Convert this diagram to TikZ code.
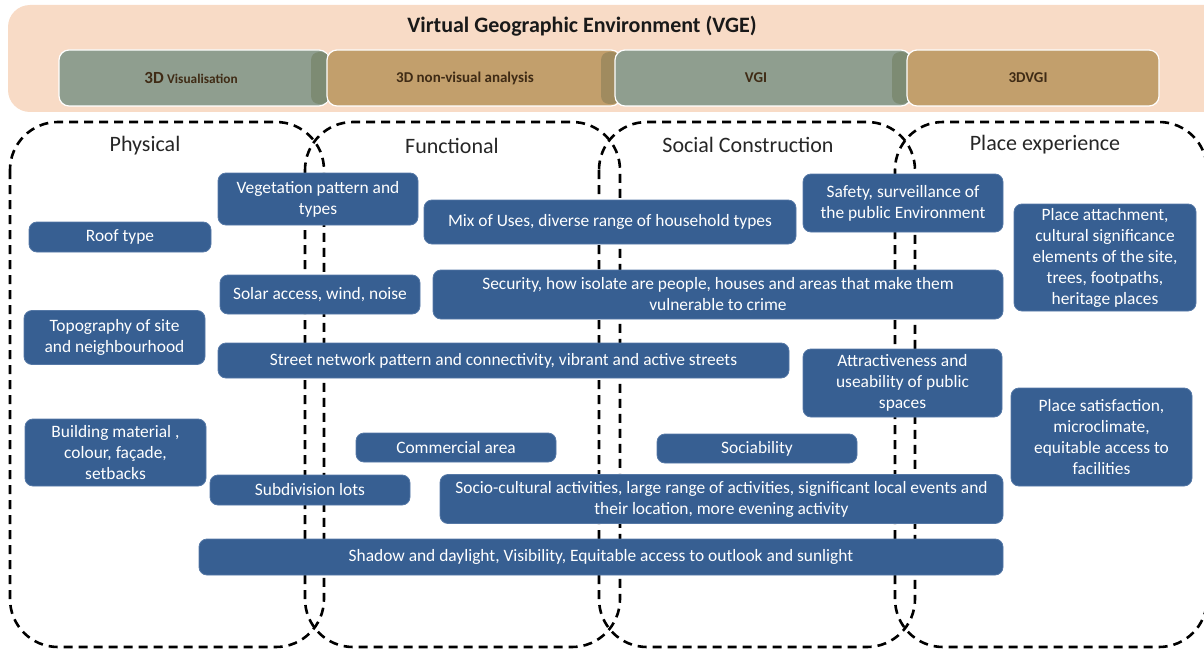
\documentclass[tikz,border=0pt]{standalone}
\usepackage{fontspec}
\setmainfont{Carlito}
\definecolor{peach}{HTML}{F8DBC6}
\definecolor{gbody}{HTML}{8F9E8F}
\definecolor{gcap}{HTML}{7D8B73}
\definecolor{tbody}{HTML}{C29F6C}
\definecolor{tcap}{HTML}{A08B5F}
\definecolor{boxblue}{HTML}{375F92}
\definecolor{boxedge}{HTML}{5578A6}
\definecolor{cyltext}{HTML}{3F2B15}
\tikzset{
  box/.style={rectangle, rounded corners=8pt, fill=boxblue, draw=boxedge, line width=0.8pt,
    text=white, align=center, inner sep=0pt, font=\fontsize{17.4}{21}\selectfont},
  region/.style={draw=black, line width=2.6pt, dash pattern=on 9pt off 6pt, rounded corners=48pt},
  header/.style={font=\fontsize{22}{26}\selectfont, text=black!85, inner sep=0pt},
  cylbody/.style={rectangle, rounded corners=10pt, draw=white, line width=1.2pt, inner sep=0pt, minimum height=56pt},
  cyllabel/.style={font=\bfseries\fontsize{15}{17}\selectfont, text=cyltext, inner sep=0pt}
}
\begin{document}
\begin{tikzpicture}[x=1pt,y=-1pt]
\useasboundingbox (0,0) rectangle (1204,650);
\clip (0,0) rectangle (1204,650);
% banner
\node[rectangle, rounded corners=22pt, fill=peach, minimum width=1222pt, minimum height=107pt, inner sep=0pt] (vge) at (619,58.5) {};
\node[font=\bfseries\fontsize{22}{26}\selectfont, text=black!90, inner sep=0pt] (vgetitle) at (582,26) {Virtual Geographic Environment (VGE)};
% cylinders
\node[cylbody, fill=gbody, minimum width=270pt] (c1) at (194,78) {};
\fill[gcap, rounded corners=8pt] (311,52) rectangle (329,104);
\node[cylbody, fill=tbody, minimum width=294pt] (c2) at (474,78) {};
\fill[tcap, rounded corners=8pt] (601,52) rectangle (620,104);
\node[cylbody, fill=gbody, minimum width=296pt] (c3) at (763,78) {};
\fill[gcap, rounded corners=8pt] (892,52) rectangle (910,104);
\node[cylbody, fill=tbody, minimum width=252pt] (c4) at (1033,78) {};
\node[cyllabel] (l1) at (191,78) {{\fontsize{17}{18}\selectfont 3D} {\fontsize{13.3}{16}\selectfont Visualisation}};
\node[cyllabel] (l2) at (465,78) {3D non-visual analysis};
\node[cyllabel] (l3) at (756,78) {VGI};
\node[cyllabel] (l4) at (1028,78) {3DVGI};
% dashed regions
\draw[region] (10,122) rectangle (324,647);
\draw[region] (305,122) rectangle (620,647);
\draw[region] (599,122) rectangle (915,647);
\draw[region] (895,122) rectangle (1207,647);
% headers
\node[header] (hphys) at (145,146) {Physical};
\node[header] (hfunc) at (452,146) {Functional};
\node[header] (hsoc) at (748,145) {Social Construction};
\node[header] (hplace) at (1045,145) {Place experience};
% boxes
\begin{scope}[every node/.append style={yshift=-1pt}]
\node[box, minimum width=200pt, minimum height=52pt] (veg) at (318,198) {Vegetation pattern and\\types};
\node[box, minimum width=182pt, minimum height=30pt] (roof) at (120,236) {Roof type};
\node[box, minimum width=372pt, minimum height=44pt] (mix) at (610,221) {Mix of Uses, diverse range of household types};
\node[box, minimum width=200pt, minimum height=58pt] (safety) at (903,202) {Safety, surveillance of\\the public Environment};
\node[box, minimum width=182pt, minimum height=107pt] (attach) at (1105,256.5) {Place attachment,\\cultural significance\\elements of the site,\\trees, footpaths,\\heritage places};
\node[box, minimum width=200pt, minimum height=39pt] (solar) at (320,293.5) {Solar access, wind, noise};
\node[box, minimum width=570pt, minimum height=49pt] (security) at (718,293.5) {Security, how isolate are people, houses and areas that make them\\vulnerable to crime};
\node[box, minimum width=181pt, minimum height=54pt] (topo) at (114.5,336.5) {Topography of site\\and neighbourhood};
\node[box, minimum width=571pt, minimum height=35pt] (street) at (503.5,359.5) {Street network pattern and connectivity, vibrant and active streets};
\node[box, minimum width=199pt, minimum height=68pt] (attract) at (902.5,382) {Attractiveness and\\useability of public\\spaces};
\node[box, minimum width=181pt, minimum height=98pt] (satisf) at (1101.5,436) {Place satisfaction,\\microclimate,\\equitable access to\\facilities};
\node[box, minimum width=181pt, minimum height=67pt] (building) at (115.5,451.5) {Building material ,\\colour, façade,\\setbacks};
\node[box, minimum width=200pt, minimum height=29pt] (commercial) at (456,446.5) {Commercial area};
\node[box, minimum width=200pt, minimum height=29pt] (sociab) at (757,447.5) {Sociability};
\node[box, minimum width=200pt, minimum height=30pt] (subdiv) at (310,489) {Subdivision lots};
\node[box, minimum width=563pt, minimum height=49pt] (socio) at (721.5,498) {Socio-cultural activities, large range of activities, significant local events and\\their location, more evening activity};
\node[box, minimum width=804pt, minimum height=36pt] (shadow) at (601,556) {Shadow and daylight, Visibility, Equitable access to outlook and sunlight};
\end{scope}
\end{tikzpicture}
\end{document}
